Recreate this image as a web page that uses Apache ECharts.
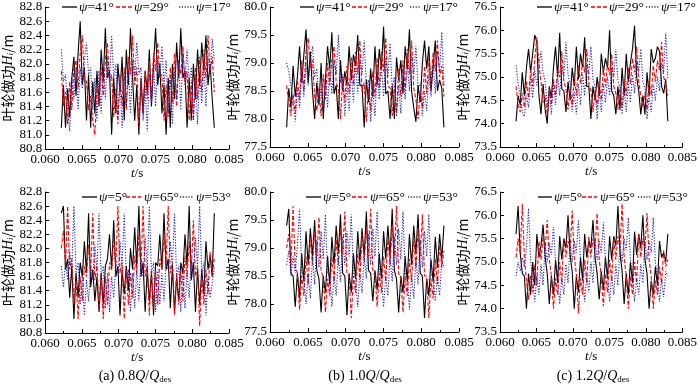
<!DOCTYPE html>
<html><head><meta charset="utf-8">
<script src="https://cdn.jsdelivr.net/npm/echarts@6/dist/echarts.min.js"></script>
<style>html,body{margin:0;padding:0;background:#fff}#c{width:700px;height:384px}</style>
</head><body><div id="c"></div>
<script>
// sampling grid (s)
const T0 = 0.0622, DT = 0.000285, N = 74;
const time = Array.from({length: N}, (_, i) => +(T0 + i * DT).toFixed(6));

const xTicks = [0.060, 0.065, 0.070, 0.075, 0.080, 0.085];
const namesTop = ['ψ=41°', 'ψ=29°', 'ψ=17°'];
const namesBottom = ['ψ=5°', 'ψ=65°', 'ψ=53°'];
const captions = ['(a) 0.8', '(b) 1.0', '(c) 1.2'];

// (a) 0.8Q/Qdes, top row
const a41 = [81.10,81.70,81.10,81.65,81.25,81.80,82.10,81.55,82.15,
82.60,81.70,81.95,81.20,81.85,81.10,81.75,81.30,81.90,81.40,82.20,81.75,
82.50,81.80,81.90,81.00,81.80,81.30,82.00,81.60,82.10,81.20,82.20,81.70,
82.50,81.80,81.20,81.70,81.00,81.80,81.30,81.90,81.60,82.20,81.40,82.00,
82.50,81.70,82.00,81.30,81.70,81.00,81.80,81.10,82.00,81.50,82.30,81.80,
82.50,81.80,81.90,81.10,81.80,81.20,82.00,81.50,82.20,81.70,82.30,81.90,
82.40,81.70,82.00,81.50,81.10];
const a29 = [81.90,81.40,81.60,81.15,81.75,81.35,81.95,82.05,81.65,82.15,
82.40,81.80,81.75,81.35,81.55,81.20,81.00,81.70,81.45,81.95,81.55,82.05,
82.30,81.75,81.85,81.25,81.65,81.15,81.85,81.40,81.95,81.35,82.10,81.85,
82.40,81.70,81.95,81.10,81.75,81.30,81.90,81.50,82.05,81.45,82.15,81.90,
82.30,81.80,81.85,81.20,81.70,81.25,81.95,81.45,82.15,81.40,82.05,81.85,
82.25,81.70,81.90,81.20,81.75,81.20,81.95,81.50,82.10,81.60,82.20,81.80,
82.40,81.90,82.10,81.60];
const a17 = [82.20,81.75,81.85,81.40,81.05,81.80,81.50,81.95,81.35,81.95,81.65,82.05,
82.30,81.85,81.95,81.35,81.80,81.20,81.90,81.30,81.95,81.50,82.10,81.75,
82.40,81.80,82.00,81.25,81.75,81.10,81.85,81.40,81.90,81.30,82.05,81.80,
82.30,81.85,81.95,81.20,81.70,81.05,81.85,81.45,82.00,81.40,82.10,81.80,
82.25,81.70,82.05,81.30,81.80,81.15,81.90,81.50,82.05,81.35,82.15,81.80,
82.20,81.75,81.95,81.20,81.80,81.15,81.85,81.45,82.00,81.40,82.10,81.85,
82.35,82.05];
// (b) 1.0Q/Qdes, top row
const b41 = [77.85,78.55,78.20,78.95,78.40,78.75,79.30,78.65,79.15,
79.60,78.65,79.20,78.50,78.00,78.65,78.25,79.00,78.00,78.70,79.30,78.90,
79.55,78.45,78.60,78.00,79.05,78.50,78.85,78.60,79.30,78.70,79.15,78.95,
79.50,78.60,78.60,77.85,78.70,78.30,78.90,78.40,79.30,78.60,79.25,78.90,
79.65,78.45,78.50,78.00,78.60,78.00,79.10,78.70,79.05,78.45,79.30,78.90,
79.60,78.50,78.20,77.95,78.60,78.30,79.00,79.40,78.90,79.30,78.50,78.95,
79.40,78.50,78.70,78.55,77.85];
const b29 = [78.60,78.30,78.05,78.45,78.10,78.70,78.35,79.05,78.50,79.20,
79.45,78.90,79.05,78.40,78.15,78.55,78.05,78.80,78.35,79.00,78.60,79.05,
79.30,78.65,78.55,78.00,78.75,78.30,78.95,78.45,79.10,78.60,79.20,78.80,
79.40,78.50,78.65,77.95,78.55,78.15,78.85,78.40,79.10,78.55,79.20,78.85,
79.45,78.60,78.55,78.05,78.60,78.10,78.90,78.40,79.05,78.50,79.25,78.80,
79.40,78.55,78.35,78.00,78.50,78.20,78.95,78.45,79.10,78.60,79.20,78.85,
79.40,78.75,78.95,78.40];
const b17 = [79.00,78.85,78.60,78.30,77.95,78.55,78.20,78.90,78.40,79.00,78.60,79.05,
79.30,78.75,78.90,78.25,78.55,78.10,78.80,78.20,78.95,78.45,79.05,78.80,
79.50,78.65,78.80,78.05,78.60,78.15,78.85,78.30,79.00,78.45,79.10,78.80,
79.40,78.60,78.70,77.95,78.55,78.05,78.85,78.35,78.95,78.40,79.10,78.75,
79.35,78.55,78.75,78.05,78.60,78.10,78.90,78.35,79.00,78.50,79.15,78.80,
79.30,78.55,78.65,78.05,78.50,78.15,78.80,78.40,79.00,78.45,79.20,78.85,
79.55,78.60];
// (c) 1.2Q/Qdes, top row
const c41 = [74.05,74.60,74.40,75.10,74.60,75.20,75.60,75.10,75.50,
75.90,75.75,74.60,74.20,74.85,74.30,74.00,74.80,74.55,75.20,75.65,75.00,
75.95,74.75,74.70,74.25,74.90,74.50,75.20,74.80,75.65,74.95,75.50,75.20,
75.85,74.80,74.80,74.10,74.80,74.50,75.00,74.60,75.50,75.10,75.40,75.20,
76.00,74.70,74.60,74.20,74.80,74.30,75.20,74.60,75.50,74.90,75.30,75.60,
76.10,75.00,74.70,74.20,74.60,74.20,75.10,74.60,75.60,75.30,75.40,75.65,
75.55,74.80,74.65,74.95,74.05];
const c29 = [74.80,74.40,74.25,74.65,74.35,74.90,74.55,75.15,74.80,75.40,
75.85,75.30,74.90,74.45,74.60,74.20,74.75,74.40,74.95,74.60,75.15,75.00,
75.55,74.90,74.75,74.30,74.75,74.40,75.00,74.60,75.25,74.85,75.35,75.10,
75.60,74.85,74.70,74.25,74.70,74.35,74.90,74.50,75.20,74.80,75.30,75.05,
75.50,74.80,74.65,74.30,74.75,74.35,74.95,74.60,75.20,74.85,75.40,75.10,
75.65,74.90,74.60,74.35,74.65,74.30,74.95,74.60,75.25,74.90,75.35,75.15,
75.75,75.00,74.85,74.60];
const c17 = [75.25,74.85,74.60,74.25,74.15,74.60,74.35,75.00,74.55,75.15,74.80,75.25,
75.55,75.10,74.90,74.40,74.70,74.20,74.90,74.40,75.05,74.60,75.25,75.00,
75.75,75.05,74.85,74.25,74.70,74.20,74.85,74.40,75.10,74.60,75.30,75.05,
75.65,74.95,74.80,74.10,74.70,74.25,74.85,74.45,75.00,74.60,75.20,75.00,
75.60,74.90,74.80,74.20,74.75,74.25,74.90,74.45,75.05,74.65,75.35,75.10,
75.60,74.90,74.75,74.10,74.60,74.25,74.85,74.50,75.00,74.70,75.30,75.10,
75.95,74.95];
// (a) bottom row
const a5 = [82.50,82.60,
81.70,81.85,81.30,81.75,81.00,81.65,81.30,81.80,81.60,82.10,81.65,
82.50,81.45,81.70,81.25,81.60,81.10,81.65,81.20,81.75,81.85,82.20,81.70,
82.40,81.60,81.75,81.05,81.70,81.35,81.75,81.40,82.00,81.70,82.30,81.75,
82.60,81.60,81.80,81.10,81.70,81.25,81.65,81.05,81.80,81.75,82.20,81.70,
82.50,81.70,81.85,81.15,81.75,81.10,81.60,81.25,81.80,81.65,82.20,81.75,
82.60,81.55,81.80,81.10,81.70,81.20,81.70,81.35,82.10,81.70,81.90,81.60,
82.50];
const a65 = [82.00,82.25,81.75,
82.60,81.70,81.85,81.20,81.55,81.00,81.60,81.25,81.75,81.60,82.05,81.65,
82.50,81.55,81.75,81.15,81.65,81.00,81.60,81.20,81.80,81.70,82.15,81.75,
82.60,81.65,81.80,81.00,81.70,81.20,81.65,81.30,81.90,81.65,82.20,81.70,
82.60,81.60,81.75,81.05,81.70,81.15,81.70,81.20,81.85,81.70,82.20,81.80,
82.60,81.65,81.80,81.05,81.65,81.20,81.70,81.25,81.90,81.60,82.10,81.70,
82.40,81.60,81.75,80.90,81.60,81.20,81.70,81.35,81.95,81.65,81.85];
const a53 = [81.75,81.45,81.80,81.55,81.95,81.70,
82.60,81.65,81.80,81.20,81.60,81.05,81.55,81.25,81.75,81.55,82.05,81.70,
82.50,81.60,81.75,81.15,81.65,81.10,81.60,81.30,81.80,81.65,82.10,81.75,
82.50,81.60,81.70,81.10,81.65,81.15,81.70,81.25,81.85,81.60,82.15,81.70,
82.60,81.65,81.80,81.10,81.70,81.20,81.65,81.25,81.80,81.70,82.10,81.75,
82.50,81.60,81.75,81.10,81.70,81.15,81.65,81.30,81.85,81.60,82.15,81.75,
82.60,81.65,81.80,81.05,81.60,81.30,81.50,81.75];
// (b) bottom row
const b5 = [79.40,79.70,
78.55,78.50,77.95,78.55,78.10,78.90,78.40,79.30,78.70,79.35,78.85,
79.50,78.60,78.45,77.85,78.50,78.20,78.85,78.35,79.20,78.70,79.40,78.90,
79.60,78.55,78.50,77.80,78.55,78.20,78.90,78.45,79.30,78.75,79.35,78.85,
79.65,78.60,78.55,78.05,78.60,78.25,78.90,78.45,79.30,78.80,79.40,78.85,
79.70,78.60,78.45,77.85,78.50,78.20,78.85,78.40,79.25,78.70,79.40,78.90,
79.60,78.55,78.50,77.75,78.45,78.15,78.80,78.40,79.20,78.65,79.25,78.80,
79.40];
const b65 = [79.00,79.25,78.70,
79.75,78.65,78.55,77.90,78.50,78.15,78.85,78.35,79.20,78.70,79.30,78.85,
79.55,78.60,78.45,77.85,78.45,78.15,78.85,78.40,79.15,78.70,79.35,78.90,
79.65,78.55,78.50,77.75,78.50,78.20,78.90,78.45,79.25,78.75,79.35,78.85,
79.70,78.60,78.50,77.95,78.55,78.20,78.85,78.40,79.20,78.70,79.40,78.85,
79.75,78.55,78.45,77.85,78.50,78.15,78.80,78.40,79.20,78.65,79.35,78.85,
79.60,78.50,78.50,77.75,78.45,78.10,78.80,78.35,79.05,78.65,78.95];
const b53 = [78.70,78.95,78.50,78.85,78.55,79.05,
79.70,78.60,78.45,78.00,78.50,78.10,78.85,78.35,79.15,78.65,79.30,78.80,
79.60,78.55,78.50,77.95,78.50,78.15,78.85,78.40,79.20,78.70,79.30,78.85,
79.60,78.55,78.45,77.95,78.55,78.20,78.85,78.45,79.25,78.70,79.35,78.85,
79.65,78.60,78.50,77.95,78.50,78.15,78.85,78.40,79.20,78.70,79.35,78.80,
79.65,78.55,78.50,77.90,78.50,78.10,78.80,78.35,79.15,78.65,79.30,78.85,
79.60,78.55,78.45,78.05,78.50,78.15,78.80,78.65];
// (c) bottom row
const c5 = [75.60,76.20,
75.20,74.75,74.70,74.00,74.75,74.30,75.00,74.50,75.60,75.10,75.35,
75.80,75.10,74.75,74.10,74.70,74.30,75.05,74.55,75.55,75.05,75.50,75.30,
76.00,75.15,74.80,74.00,74.70,74.35,75.10,74.60,75.60,75.10,75.45,75.30,
75.90,75.10,74.75,74.20,74.80,74.40,75.10,74.65,75.55,75.05,75.55,75.35,
76.20,75.20,74.80,74.10,74.75,74.30,75.00,74.55,75.65,75.15,75.60,75.30,
76.00,75.05,74.75,74.00,74.60,74.30,74.90,74.50,75.45,75.10,75.20,75.00,
75.60];
const c65 = [75.10,75.50,75.20,
76.25,75.10,74.60,74.20,74.70,74.35,74.95,74.50,75.45,75.05,75.55,75.25,
75.90,75.05,74.70,74.00,74.65,74.30,75.00,74.55,75.50,75.10,75.45,75.25,
76.10,75.10,74.75,73.90,74.65,74.30,75.05,74.55,75.55,75.10,75.50,75.30,
76.05,75.05,74.70,74.05,74.75,74.35,75.05,74.60,75.50,75.05,75.55,75.30,
76.25,75.10,74.70,74.00,74.70,74.30,75.00,74.55,75.60,75.10,75.50,75.30,
76.05,75.05,74.70,74.00,74.60,74.30,74.90,74.55,75.25,74.90,75.05];
const c53 = [74.70,75.00,74.80,75.10,74.90,75.30,
76.15,75.05,74.65,74.15,74.70,74.30,74.95,74.50,75.40,75.00,75.40,75.15,
75.75,75.00,74.70,74.10,74.65,74.30,74.95,74.55,75.40,75.00,75.45,75.20,
75.90,75.05,74.75,74.15,74.70,74.35,75.00,74.55,75.45,75.05,75.45,75.20,
75.85,75.00,74.70,74.15,74.70,74.30,74.95,74.50,75.40,75.00,75.50,75.25,
75.95,75.05,74.70,74.15,74.65,74.30,74.95,74.55,75.45,75.05,75.45,75.20,
75.95,75.00,74.70,74.15,74.65,74.25,74.80,74.70];

const SERIF = 'Liberation Serif';
const CJK = 'Noto Sans CJK SC';
const lineStyles = [
  {color:'#000000', type:'solid', width:1.1, dash:null},
  {color:'#ff0000', type:[4,2], width:1.1, dash:[4,2]},
  {color:'#2424b0', type:[1.2,1.6], width:1.1, dash:[1.2,1.6]}
];

// legend layout: [lineStart, lineEnd, textStart] per item, and centre y
const panels = [
  {grid:{left:40,top:7,width:189,height:142}, y:[80.8,82.8,0.2], names:namesTop, data:[a41,a29,a17],
   lg:{y:7, items:[[62,77,79],[116,132,134],[179,194,196]]}},
  {grid:{left:270,top:7,width:189,height:140}, y:[77.5,80.0,0.5], names:namesTop, data:[b41,b29,b17],
   lg:{y:7, items:[[300,314,316],[352,367,369],[410,421,423]]}},
  {grid:{left:500,top:7,width:189,height:140}, y:[73.5,76.5,0.5], names:namesTop, data:[c41,c29,c17],
   lg:{y:7, items:[[537,552,554],[591,607,609],[646,659,661]]}},
  {grid:{left:40,top:192,width:189,height:141}, y:[80.8,82.8,0.2], names:namesBottom, data:[a5,a65,a53],
   lg:{y:197, items:[[82,97,99],[126,141,144],[180,193,196]]}},
  {grid:{left:270,top:192,width:189,height:140}, y:[77.5,80.0,0.5], names:namesBottom, data:[b5,b65,b53],
   lg:{y:197, items:[[306,321,323],[352,367,370],[408,421,423]]}},
  {grid:{left:500,top:192,width:189,height:140}, y:[73.5,76.5,0.5], names:namesBottom, data:[c5,c65,c53],
   lg:{y:197, items:[[538,552,554],[582,597,600],[638,651,653]]}}
];

const grids=[], xAxes=[], yAxes=[], series=[], graphics=[];
panels.forEach((p, k) => {
  grids.push(p.grid);
  xAxes.push({
    type:'value', gridIndex:k, min:xTicks[0], max:xTicks[xTicks.length-1], interval:0.005,
    name:'{i|t}/s', nameLocation:'middle', nameGap:18,
    nameTextStyle:{color:'#000', fontFamily:SERIF, fontSize:13, rich:{i:{fontStyle:'italic', fontFamily:SERIF, fontSize:13}}},
    axisLine:{lineStyle:{color:'#000', width:1}},
    axisTick:{inside:true, length:4, lineStyle:{color:'#000'}},
    minorTick:{show:true, splitNumber:2, length:2, lineStyle:{color:'#000'}},
    splitLine:{show:false},
    axisLabel:{color:'#000', fontFamily:SERIF, fontSize:13, margin:4, formatter:v=>v.toFixed(3)}
  });
  yAxes.push({
    type:'value', gridIndex:k, min:p.y[0], max:p.y[1], interval:p.y[2],
    name:'叶轮做功{h|H}{s|i}/m', nameLocation:'middle', nameGap:23,
    nameTextStyle:{color:'#000', fontFamily:CJK, fontSize:14,
      rich:{h:{fontStyle:'italic', fontFamily:SERIF, fontSize:14, color:'#000'},
            s:{fontStyle:'italic', fontFamily:SERIF, fontSize:9, color:'#000', padding:[6,0,0,0]}}},
    axisLine:{show:true, lineStyle:{color:'#000', width:1}},
    axisTick:{show:true, inside:true, length:4, lineStyle:{color:'#000'}},
    splitLine:{show:false},
    axisLabel:{color:'#000', fontFamily:SERIF, fontSize:13, margin:3, formatter:v=>v.toFixed(1)}
  });
  p.names.forEach((nm, j) => {
    const ls = lineStyles[j];
    series.push({
      type:'line', name:nm, xAxisIndex:k, yAxisIndex:k, symbol:'none', smooth:false,
      lineStyle:{color:ls.color, type:ls.type, width:ls.width}, itemStyle:{color:ls.color},
      data: time.map((t, i) => [t, p.data[j][i]]), animation:false
    });
    const it = p.lg.items[j];
    graphics.push({type:'line', shape:{x1:it[0], y1:p.lg.y, x2:it[1], y2:p.lg.y},
      style:{stroke:ls.color, lineWidth:1.3, lineDash:ls.dash}});
    graphics.push({type:'text', x:it[2], y:p.lg.y,
      style:{text:'{i|ψ}' + nm.slice(1), fill:'#000', fontFamily:SERIF, fontSize:13.5,
        align:'left', verticalAlign:'middle',
        rich:{i:{fontStyle:'italic', fontFamily:SERIF, fontSize:13.5}}}});
  });
});

const capX = [135, 365, 593];
captions.forEach((c, k) => graphics.push({
  type:'text', x:capX[k], y:376,
  style:{text: c + '{i|Q}/{i|Q}{s|des}', fill:'#000', fontFamily:SERIF, fontSize:14,
    align:'center', verticalAlign:'middle',
    rich:{i:{fontStyle:'italic', fontFamily:SERIF, fontSize:14}, s:{fontFamily:SERIF, fontSize:9, padding:[7,0,0,0]}}}
}));

const chart = echarts.init(document.getElementById('c'), null, {renderer:'canvas'});
chart.setOption({
  animation:false, backgroundColor:'#fff',
  grid:grids, xAxis:xAxes, yAxis:yAxes, series:series, graphic:graphics
});
</script></body></html>
